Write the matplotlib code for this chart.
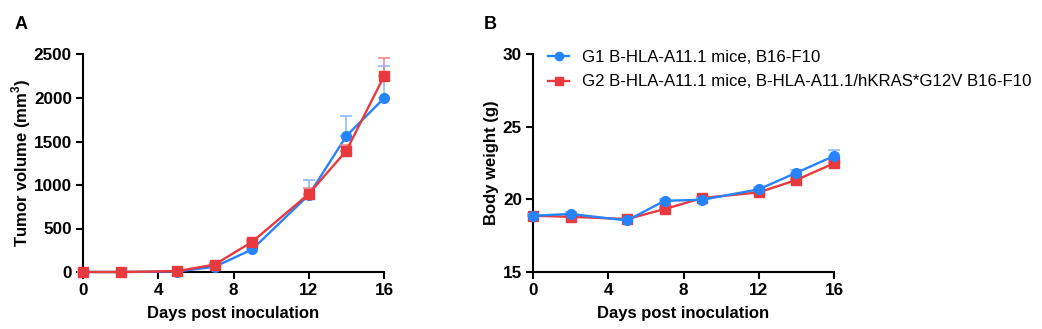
import matplotlib
matplotlib.use("Agg")
import matplotlib.pyplot as plt
import numpy as np

plt.rcParams['font.family'] = ['Liberation Sans', 'DejaVu Sans']
plt.rcParams['mathtext.fontset'] = 'custom'
plt.rcParams['mathtext.rm'] = 'Liberation Sans'
plt.rcParams['mathtext.bf'] = 'Liberation Sans:bold'

days = [0, 2, 5, 7, 9, 12, 14, 16]
g1_label = "G1 B-HLA-A11.1 mice, B16-F10"
g2_label = "G2 B-HLA-A11.1 mice, B-HLA-A11.1/hKRAS*G12V B16-F10"

tumor_g1 = [0, 0, 5, 60, 261, 885, 1563, 1997]
tumor_g1_err = [0, 0, 3, 15, 30, 172, 230, 375]
tumor_g2 = [0, 0, 10, 85, 348, 897, 1394, 2249]
tumor_g2_err = [0, 0, 4, 15, 25, 72, 66, 207]

bw_g1 = [18.87, 18.99, 18.55, 19.90, 19.97, 20.69, 21.83, 22.98]
bw_g1_err = [0.12, 0.15, 0.12, 0.15, 0.12, 0.15, 0.22, 0.40]
bw_g2 = [18.87, 18.80, 18.64, 19.33, 20.09, 20.48, 21.33, 22.48]
bw_g2_err = [0.1, 0.1, 0.1, 0.15, 0.1, 0.12, 0.15, 0.2]

blue = '#2684ff'
red = '#e8393e'
blue_err = '#8cbcff'
red_err = '#f08a8d'

W, H = 1042, 329
fig = plt.figure(figsize=(10.42, 3.29), dpi=100)
axA = fig.add_axes([83/W, 1-272/H, (384-83)/W, (272-54.5)/H])
axB = fig.add_axes([533/W, 1-272/H, (834-533)/W, (272-54)/H])

def style(ax):
    for s in ['top', 'right']:
        ax.spines[s].set_visible(False)
    for s in ['left', 'bottom']:
        ax.spines[s].set_linewidth(1.5)
    ax.tick_params(width=1.5, length=5, labelsize=12.3, pad=3)
    for lab in ax.get_xticklabels() + ax.get_yticklabels():
        lab.set_fontweight('bold')

def plot_series(ax, x, y, e, color, ecolor, marker, label, z):
    y = np.array(y); e = np.array(e)
    ax.errorbar(x, y, yerr=[np.zeros_like(e), e], fmt='none', ecolor=ecolor,
                elinewidth=1.2, capsize=4, capthick=1.2, clip_on=False, zorder=z)
    ax.plot(x, y, color=color, lw=1.7, marker=marker, ms=7 if marker == 'o' else 6.6,
            label=label, clip_on=False, zorder=z + 1)

plot_series(axA, days, tumor_g1, tumor_g1_err, blue, blue_err, 'o', g1_label, 3)
plot_series(axA, days, tumor_g2, tumor_g2_err, red, red_err, 's', g2_label, 5)
axA.set_xlim(0, 16)
axA.set_ylim(0, 2500)
axA.set_xticks([0, 4, 8, 12, 16])
axA.set_yticks([0, 500, 1000, 1500, 2000, 2500])
style(axA)
axA.set_xlabel("Days post inoculation", fontsize=12, fontweight='bold', labelpad=6)
axA.set_ylabel(r"Tumor volume (mm$^{\mathbf{3}}$)", fontsize=12, fontweight='bold')
axA.yaxis.set_label_coords((33 - 83) / 301, 0.5)

plot_series(axB, days, bw_g2, bw_g2_err, red, red_err, 's', g2_label, 3)
plot_series(axB, days, bw_g1, bw_g1_err, blue, blue_err, 'o', g1_label, 5)
axB.set_xlim(0, 16)
axB.set_ylim(15, 30)
axB.set_xticks([0, 4, 8, 12, 16])
axB.set_yticks([15, 20, 25, 30])
style(axB)
axB.set_xlabel("Days post inoculation", fontsize=12, fontweight='bold', labelpad=6)
axB.set_ylabel("Body weight (g)", fontsize=12, fontweight='bold')
axB.yaxis.set_label_coords((499 - 533) / 301, 0.5)

h, l = axB.get_legend_handles_labels()
order = [l.index(g1_label), l.index(g2_label)]
axB.legend([h[i] for i in order], [l[i] for i in order], loc='upper left',
           bbox_to_anchor=(548/W, 1-50/H), bbox_transform=fig.transFigure,
           frameon=False, fontsize=12.1, handlelength=1.25, handletextpad=0.75,
           labelspacing=0.56, borderaxespad=0, borderpad=0, markerscale=0.85)

fig.text(15/W, 1-24.5/H, "A", fontsize=13, fontweight='bold', va='center')
fig.text(484/W, 1-24.5/H, "B", fontsize=13, fontweight='bold', va='center')

fig.savefig("out.png", dpi=100)
